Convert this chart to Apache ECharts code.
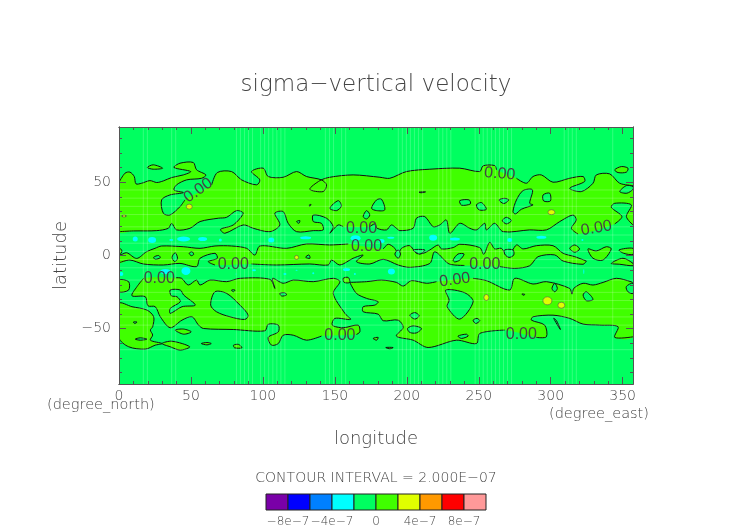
<!DOCTYPE html>
<html><head><meta charset="utf-8">
<style>html,body{margin:0;padding:0;background:#fff}#c{width:752px;height:532px}</style>
<script src="https://cdn.jsdelivr.net/npm/echarts@6/dist/echarts.min.js"></script>
</head><body><div id="c"></div>
<script>
const FONT='DejaVu Sans';
const LABEL_FONT='Liberation Sans';
const titleText='sigma\u2212vertical velocity';
const intervalText='CONTOUR INTERVAL = 2.000E\u221207';
const xTicks=[0,50,100,150,200,250,300,350];
const yTicks=[-50,0,50];
const xMinor=[10,20,30,40,60,70,80,90,110,120,130,140,160,170,180,190,210,220,230,240,260,270,280,290,310,320,330,340];
const yMinor=[-80,-70,-60,-40,-30,-20,-10,10,20,30,40,60,70,80];
const lonMax=357.19, latMax=87.86;
// colour classes (units of 1e-7)
const legendEdges=[-10,-8,-6,-4,-2,0,2,4,6,8,10];
const legendColors=['#7a00a8','#0000ff','#0080ff','#00ffff','#00ff60','#40ff00','#e0ff00','#ff9900','#ff0000','#ff9999'];
const legendTicks=[-8,-4,0,4,8];
const C_NEG=legendColors[4], C_POS=legendColors[5], C_CYAN=legendColors[3], C_YEL=legendColors[6];
// zero contour, [lon,lat]; null = gap for a contour label
const nTop=[[0,50.1],[4.2,56.3],[7.6,57],[10.6,54],[11.8,49],[15.7,49.4],[21.5,51.2],[26.2,49.9],[30.8,51],[36.6,53.3],[44.7,55.1],[49.8,57.4],[38.2,60.2],[42.4,63.1],[51.6,63.6],[53.9,58.6],[60.4,55.1],[57.4,52.8],[47,51.7],[40,48.3],[38.2,44.8],[44.7,43],[35.4,41.4],[29.6,38],[30.8,28.9],[35.4,27.7],[42.4,33.4],[45.8,38],null,[64.4,48.3],[68.3,56.7],[78.2,57.4],[85.2,51.7],[95.6,48.3],[97.9,51.7],[92.1,57.4],[100.2,59.7],[103.7,54],[114.1,53.5],[123.4,57.4],[130.3,54],[140.7,51.7],[144.2,48.3],[141.9,43.7],[132.6,45.3],[139.6,51.2],[146.5,53.5],[162.7,55.1],[181.3,53.5],[188.2,52.8],[199.8,57.4],[216,59],[236.8,59.7],[250.7,57.4],[253,61.3],[261.1,61.5],[262.3,58.6],null,[276.2,52.8],[283.1,49.4],[287.7,54],[293.5,55.1],[301.6,50.1],[313.2,52.8],[322.5,54],[323.6,50.6],[313.2,46],[321.3,43.7],[329.4,49.4],[331.7,55.1],[341,55.8],[347.9,49.4],[357.2,47.8]];
const nBottom=[[0,16.3],[10,16.8],[26.2,17],[34.3,18.6],[36.6,22],[40,17.5],[49.3,18.6],[56.3,23.2],[69,25.5],[74.8,26.1],[81.7,30.7],[86.3,28.9],[79.4,20.9],[70.6,17.9],[73.6,15.2],[86.3,20.9],[93.3,18.6],[104.9,16.3],[111.8,20.9],[108.3,28.9],[114.1,30],[117.6,22],[123.4,16.3],[135,17],[141.9,17.5],[140.7,22],[135,23.2],[135,27.7],[144.2,25.5],[148.9,19.7],[146.5,15.2],[152.3,20.9],[155.8,19.7],null,[174.3,19.7],[177.8,21.6],[179.4,18.6],[185.9,17.5],[189.3,20.9],[192.8,18.6],[195.1,17],[204.4,18.6],[206.7,25.5],[212.5,26.6],[218.3,19.7],[222.9,20.9],[227.5,24.3],[229.9,15.2],[236.8,22],[243.8,18.6],[248.4,17.5],[254.2,22],[255.3,17.5],[261.1,22],[266.9,16.3],[285.4,17.5],[297,17.5],[306.3,23.2],[315.5,27.7],[317.8,24.3],[314.4,18.6],[319,14.7],null,[344.5,21.6],[349.5,26.6],[342.1,33],[344.5,35.7],[356,34.6],[352.6,26.6],[357.2,20.9]];
const mTop=[[0,5.6],[2.1,3.1],[0.7,0.3],[5.3,1.9],[12.3,-2],[19.2,2.6],[25,4.9],[29.6,6.5],[44.7,6],[56.3,4.9],[66.7,6.5],[78.2,6.5],[88.7,4.9],[94.4,0.3],[97.9,6.5],[116.4,4.9],[130.3,7.9],[146.5,7.2],[159.3,7.9],null,[183.6,4.5],[187.1,7.7],[191.7,4.9],[194,0.8],[196.3,4.9],[202.1,6.7],[206.7,1.5],[211.4,1.5],[216,3.8],[221.8,7.2],[224.1,4.5],[232.2,5.4],[236.8,7.7],[250.7,5.4],[253.5,0.8],[257.6,9],[261.1,4.5],[265.7,4.9],[270.4,-0.8],[276.2,7.2],[280.8,4.5],[290,6.7],[301.6,6.7],[308.6,1.5],[316.7,-0.8],[324.8,-3.8]];
const mBottom=[[0,-5],[7.6,-3.1],[16.9,-5.8],[30.8,-6.5],[42.4,-5.4],[53.9,-7.6],[56.3,-1.9],[66.7,1.5],[68.3,-1.9],[62,-4.2],[66.7,-6.5],null,[92.1,-5.8],[109.5,-6.5],[132.6,-5.8],[145.4,-6.5],[147.7,-3.1],[153.5,-6.5],[162.7,-1.9],[169.7,0.3],[165,-4.2],[174.3,-5.8],[183.6,-2.6],[194,-6.5],[202.1,-8.1],[216,-5.4],[219.4,2.6],[228.7,-5.4],[233.3,-6.5],[240,-6.8],null,[264.6,-7.6],[275,-8.8],[285.4,-7],[291.2,-0.8],[302.8,0.4],[308.6,-3.8],[322.5,-6],[324.8,-3.8]];
const s1Ring=[[39.6,-15.2],[43.5,-15.6],[48.1,-20.2],[53.9,-16.8],[56.3,-20.2],[63.2,-16.8],[74.8,-17.9],[84,-15.6],[104.9,-16.3],[108.3,-22.5],[106.7,-15.6],[114.1,-19],[121.1,-16.8],[135,-17.9],[148.9,-15.6],[153.5,-17.9],[148.9,-25.9],[157,-39.6],[160.9,-43.7],[150,-43],[148.2,-47.6],[155.8,-49.4],[166.2,-47.6],[167.4,-52.2],[165,-54],null,[140.7,-55.1],[130.3,-57.9],[121.1,-54.5],[114.1,-54.5],[110.7,-60.2],[106,-61.3],[103.7,-56],[110.7,-52.2],[110.7,-47.6],[103.7,-47],[101.4,-51.5],[79.4,-50.6],[58.6,-49.9],[55.3,-47.6],[50.7,-41.9],[43.8,-44.2],[35.6,-49.4],[28.7,-41.9],[25.2,-35],[20.1,-34.4],[18.3,-28.2],[9,-27.5],[12.5,-21.3],[17.1,-15.6]];
const s2Top=[[160.4,-18.4],[172,-17.9],[182.4,-16.8],[192.8,-18.4],[197.5,-20.9],[203.2,-17.2],[213.7,-19],[220.6,-17.9],null,[246.1,-15.6],[255.3,-17.2],[271.5,-23.6],[275,-15.6],[287.7,-19.5],[297,-17.9],[313.2,-22.5],[314.8,-26.4],[316,-22.5],[322.5,-19],[329.4,-20.2],[336.4,-18.4],[345.6,-15.6],[356,-18],[357.2,-19]];
const s2Bottom=[[160.4,-18.4],[165,-25.9],[172,-29.3],[180.1,-31.6],[177.8,-33.9],[169.7,-35],[169.7,-38.5],[180.1,-40.1],[183.6,-44.6],[194,-44.2],[197.5,-49.2],[192.8,-55.1],[204.4,-57.9],[214.8,-62.9],[234.5,-57.9],[248.4,-60.2],[250.7,-53.3],[268,-51],null,[290,-56],[297,-55.6],[295.8,-47.6],[286.6,-44.2],[287.7,-41.9],[301.6,-40.8],[313.2,-43],[322.5,-46.9],[334,-47.6],[346.8,-48.7],[344.5,-56],[357.2,-55.6]];
const brightBlobs=[
[[19.7,60.2],[23.8,62],[30.3,59.7],[23.8,59]],
[[344.5,58.6],[349.1,60.8],[353.7,59.7],[352.6,57],[346.8,56.7]],
[[325.9,4.5],[331.7,3.1],[338.7,6],[342.1,4.5],[336.3,-3.1],[329.4,-1.9]],
[[347.5,3.8],[357.2,4.9],[357.2,0.8],[350.7,1.5]],
[[342.1,-5.4],[350.2,-1.9],[357.2,-5.4],[357.2,-7],[348,-6]],
[[313.2,4.9],[316.7,7.2],[320.1,4.5],[316.7,2.2]],
[[155.8,-15.6],[159.3,-15],[160.4,-18.4],[156.5,-18.4]],
[[176.6,-56.7],[180.1,-56],[179,-57.9]],
[[185.4,-62.9],[190.5,-62.9],[188.2,-63.8]],
[[0,-16.8],[6.7,-17.9],[6.7,-23.6],[0,-24.8]],
[[0,-32.8],[9,-35],[19.4,-37.3],[24.1,-41.9],[23.4,-48.7],[21.8,-51],[23.4,-54.4],[21.8,-57.9],[29.9,-60.2],[25.2,-61.3],[18.3,-64],[6.7,-62.4],[0,-56.3]],
[[29.9,-60.2],[36.8,-58.6],[49.1,-62.4],[42.6,-64.7],[35.6,-62.4]],
[[39.1,-51],[44.9,-50.3],[50.2,-52.2],[44.9,-53.8]],
[[57.2,-60.2],[61.1,-59.5],[64.1,-60.2],[61.1,-61.1]],
[[79.6,-61.3],[83.1,-60.8],[85.4,-63.1],[80.3,-63.1]]
];
const darkHoles=[
[[357.2,47.1],[352.6,47.8],[348,43.7],[353,42.6],[357.2,45.3]],
[[146.5,32.3],[152.3,37.5],[154.6,33.9],[151.2,30.7]],
[[169.7,26.6],[172,30.7],[174.3,27.7],[172,25]],
[[175.5,32.3],[179,38],[182.4,38.5],[184.7,31.2],[179,30.7]],
[[236.8,37.5],[243.3,38],[244.2,35.3],[238,34.4]],
[[248.4,34.6],[251.9,36.2],[255.3,31.6],[250.2,31.2]],
[[264.1,38],[268,39.1],[270.8,38],[267.4,35.5]],
[[273.8,30],[276.2,38],[280.8,44.4],[287.3,44.9],[285.4,35.7],[287.7,34.6],[279.6,31.6],[275.5,28.4]],
[[294.7,41.4],[299.3,42.6],[299.8,37.3],[295.1,37.3]],
[[266.4,23.9],[269.2,26.1],[272.7,23.9],[269.2,21.6]],
[[123.4,23.2],[125.7,23.9],[125,22]],
[[24.1,-1.2],[27.5,0],[28.7,-1.5],[25.2,-2.6]],
[[36.8,-1.2],[39.1,1.9],[40.7,-2],[38.7,-4.2]],
[[48.8,1.5],[50.7,2.6],[51.9,0.8],[50.2,-0.1]],
[[129.7,-1.2],[132,0.4],[132.7,-1.9]],
[[191.7,1],[194,3.8],[195.6,1],[194,-1.9]],
[[204.4,3.8],[212.5,3.8],[209,1]],
[[268,3.8],[273.8,3.8],[274.3,0.3],[271,-1.3],[268,1]],
[[232.2,-3.1],[235.6,1],[239.8,1],[236.8,-3.1],[233.3,-4.4]],
[[227.1,-23.6],[240.3,-25.5],[246.1,-31.6],[236.8,-43.5],[228,-35],[229.4,-30.5]],
[[202.1,-40.8],[205.6,-39],[208.6,-41.2],[205.6,-43.5]],
[[200.5,-49.9],[204.4,-48.1],[210.2,-49.9],[206.7,-52.9],[202.1,-52.6]],
[[246.1,-44.2],[248.8,-43],[250.7,-44.6],[247.9,-46.5]],
[[235.6,-55.1],[241.4,-53.8],[242.6,-55.1],[238,-56.7]],
[[300.9,-22.5],[302.8,-19],[304.6,-22.5],[302.8,-24.8]],
[[322.5,-27],[324.8,-24.8],[329.4,-30],[324.8,-30.9]],
[[352.5,-21.3],[357.2,-19],[357.2,-25.9],[353.7,-24.8]],
[[302.1,-43],[306.7,-50.6],[304,-44.5]],
[[35.6,-23.6],[42.6,-23.6],[44.9,-27],[53,-33.9],[43.8,-35],[35.6,-39.6],[35.6,-36.2],[42.6,-31.6],[40.3,-28.2],[36.3,-27.5]],
[[63.7,-33.9],[66.7,-24.8],[74.8,-25.9],[84,-33.9],[89.8,-40.8],[87.5,-43.7],[77.1,-41.9],[67.8,-38.5]],
[[78.2,-23.6],[80.6,-23.6],[79.4,-24.8]],
[[111.8,-25.9],[115.3,-25.5],[116.4,-27],[113,-27.7]],
[[10,-45.5],[12.5,-45.5],[11,-46.5]],
[[11.3,-57.2],[14.8,-56.3],[19.4,-57.2],[14.8,-57.9]],
[[132,34.2],[133.4,35],[132.8,33.8]],
[[208.5,43.3],[213,43.5],[210,42.9]],
[[280,-26.3],[282,-26.6],[281,-27.2]]
];
// small closed extremes: lon, lat, width, height
const cyanSpots=[[11.3,11.3,5,5],[23,10.6,8,6],[36.3,10.6,4,2],[44.9,11.3,13,5],[58.1,11.3,9,4],[70.4,10.6,3,3],[105.8,10.6,6,5],[129.7,12.2,11,3],[164.4,11.8,10,6],[182.4,9.9,6,4],[188.9,12.2,7,2],[218.3,12.2,8,6],[233.4,11.3,10,3],[271.5,10.6,5,4],[293.5,12.4,10,3],[322,10.6,2,2],[32.2,-11,10,5],[46.5,-10.6,9,8],[1.6,-12.7,4,4],[93.8,-10,4,2],[115.3,-12.7,3,2],[158.1,-9.5,7,3],[81.3,-12.7,1,1],[123.4,-10,2,1],[135,-12.2,2,2],[163.9,-12.7,2,2],[189.3,-11,7,6],[323,-11,1,5]];
const yellowSpots=[[48.8,33.4,6,5],[3.5,27,4,2],[300.5,29.6,7,5],[123.4,-1.3,4,4],[255.3,-28.7,5,6],[297.7,-31,9,8],[307.4,-34,7,6]];
// contour labels: lon, lat, rotation in degrees
const contourLabels=[[55,44.4,35],[168.5,18.6,0],[172,6,0],[79.4,-6,0],[28,-15.6,0],[153.5,-54.5,0],[264.6,55.8,-5],[331.7,18.6,10],[254.2,-6.5,0],[233.3,-16.8,8],[279.6,-53.8,0]];
const contourLabelText='0.00';
// light seams seen in the fill
const seamLons=[16.9,19.7,36.6,39.4,81.6,84.4,87.2,90,92.8,98.4,101.2,104,106.9,109.7,112.5,115.3,143.4,146.3,149.1,154.7,157.5,194.1,196.9,199.7,202.5,205.3,208.1,211,222.2,225,227.8,230.6,247.5,250.3,253.1,255.9,258.8,261.6,264.4,267.2,270,272.8,309.4,312.2,315,317.8,343.1];
const seamLats=[44.8,39.2,33.6,28,19.6,14,8.4,2.8,-2.8,-8.4,-16.8,-25.2,-30.8,-36.4,-42,-47.6,-64.4];

const SMOOTH=0.3;
const shapes=[];
const band=(top,bottom)=>shapes.push({fill:C_POS,pts:top.filter(Boolean).concat(bottom.filter(Boolean).reverse()),lines:[top,bottom]});
band(nTop,nBottom); band(mTop,mBottom); band(s2Top,s2Bottom);
shapes.push({fill:C_POS,pts:s1Ring.filter(Boolean),lines:[s1Ring]});
brightBlobs.forEach(p=>shapes.push({fill:C_POS,pts:p,closed:true}));
darkHoles.forEach(p=>shapes.push({fill:C_NEG,pts:p,closed:true}));

function split(line){const out=[];let cur=[];line.forEach(p=>{if(p)cur.push(p);else{out.push(cur);cur=[];}});out.push(cur);return out;}
function renderShape(params,api){
  const s=shapes[api.value(0)];
  const map=p=>api.coord(p);
  const children=[{type:'polygon',shape:{points:s.pts.map(map),smooth:SMOOTH},style:s.closed?{fill:s.fill,stroke:'#111',lineWidth:1}:{fill:s.fill}}];
  (s.lines||[]).forEach(l=>split(l).forEach(seg=>children.push({type:'polyline',shape:{points:seg.map(map),smooth:SMOOTH},style:{fill:null,stroke:'#111',lineWidth:1}})));
  const cs=params.coordSys;
  return {type:'group',children,clipPath:{type:'rect',shape:{x:cs.x,y:cs.y,width:cs.width,height:cs.height}}};
}
function renderSeam(params,api){
  const cs=params.coordSys, v=api.value(0), isLon=api.value(1)===0;
  const p=isLon?api.coord([v,0]):api.coord([0,v]);
  const sh=isLon?{x1:p[0],y1:cs.y,x2:p[0],y2:cs.y+cs.height}:{x1:cs.x,y1:p[1],x2:cs.x+cs.width,y2:p[1]};
  return {type:'line',shape:sh,style:{stroke:'rgba(255,255,255,0.2)',lineWidth:1}};
}
const gray='#444';
const WEIGHT=200;
function renderLabel(params,api){
  const p=api.coord([api.value(0),api.value(1)]);
  return {type:'text',x:p[0],y:p[1],rotation:api.value(2)*Math.PI/180,style:{text:contourLabelText,fill:'#444',font:'16px "'+LABEL_FONT+'"',align:'center',verticalAlign:'middle'}};
}
function renderLegend(params,api){
  const a=api.coord([api.value(0),0]), b=api.coord([api.value(1),1]);
  return {type:'rect',shape:{x:a[0],y:b[1],width:b[0]-a[0],height:a[1]-b[1]},style:{fill:legendColors[params.dataIndex],stroke:'#222',lineWidth:1}};
}
const minus=v=>String(v).replace('-','\u2212');
const axisBase={min:0,max:lonMax,type:'value',gridIndex:0,z:10,splitLine:{show:false},
  axisLine:{show:true,onZero:false,lineStyle:{color:'#555',width:1}}};
const yBase={min:-latMax,max:latMax,type:'value',gridIndex:0,z:10,splitLine:{show:false},
  axisLine:{show:true,onZero:false,lineStyle:{color:'#555',width:1}}};
const tick=(vals,len)=>({show:true,inside:true,length:len,customValues:vals,lineStyle:{color:'#555',width:1}});
const floatText=(text,left,top,size)=>({type:'text',left,top,silent:true,style:{text,fill:gray,font:WEIGHT+' '+size+'px "'+FONT+'"'}});

const option={
  animation:false,
  backgroundColor:'#fff',
  grid:[{left:119,top:127,width:514,height:257,show:true,backgroundColor:C_NEG,borderWidth:0},
        {left:266,top:494,width:220,height:16,show:false}],
  xAxis:[
    Object.assign({},axisBase,{position:'bottom',axisTick:tick(xTicks,7),
      axisLabel:{show:true,customValues:xTicks,color:gray,fontFamily:FONT,fontWeight:WEIGHT,fontSize:14,margin:5},
      name:'longitude',nameLocation:'middle',nameGap:46,nameTextStyle:{color:gray,fontFamily:FONT,fontWeight:WEIGHT,fontSize:18}}),
    Object.assign({},axisBase,{position:'top',axisTick:tick(xTicks,7),axisLabel:{show:false}}),
    Object.assign({},axisBase,{position:'bottom',axisTick:tick(xMinor,3),axisLabel:{show:false}}),
    Object.assign({},axisBase,{position:'top',axisTick:tick(xMinor,3),axisLabel:{show:false}}),
    {type:'value',gridIndex:1,min:legendEdges[0],max:legendEdges[legendEdges.length-1],position:'bottom',
      splitLine:{show:false},axisLine:{show:false},axisTick:{show:false},
      axisLabel:{show:true,customValues:legendTicks,hideOverlap:false,showMinLabel:true,showMaxLabel:true,color:gray,fontFamily:FONT,fontWeight:WEIGHT,fontSize:12,margin:6,
        formatter:v=>v===0?'0':minus(v)+'e\u22127'}}
  ],
  yAxis:[
    Object.assign({},yBase,{position:'left',axisTick:tick(yTicks,7),
      axisLabel:{show:true,customValues:yTicks,color:gray,fontFamily:FONT,fontWeight:WEIGHT,fontSize:14,margin:8,formatter:minus},
      name:'latitude',nameLocation:'middle',nameGap:45,nameRotate:90,nameTextStyle:{color:gray,fontFamily:FONT,fontWeight:WEIGHT,fontSize:18}}),
    Object.assign({},yBase,{position:'right',axisTick:tick(yTicks,7),axisLabel:{show:false}}),
    Object.assign({},yBase,{position:'left',axisTick:tick(yMinor,3),axisLabel:{show:false}}),
    Object.assign({},yBase,{position:'right',axisTick:tick(yMinor,3),axisLabel:{show:false}}),
    {type:'value',gridIndex:1,min:0,max:1,show:false}
  ],
  title:[
    {text:titleText,left:371,top:69,textAlign:'center',textStyle:{color:gray,fontFamily:FONT,fontSize:23,fontWeight:WEIGHT}},
    {text:intervalText,left:371,top:466,textAlign:'center',textStyle:{color:gray,fontFamily:FONT,fontSize:14,fontWeight:WEIGHT}}
  ],
  graphic:[floatText('(degree_north)',47,398,14.5),floatText('(degree_east)',549,407,14.5)],
  series:[
    {type:'custom',coordinateSystem:'cartesian2d',xAxisIndex:0,yAxisIndex:0,z:3,renderItem:renderShape,data:shapes.map((s,i)=>[i]),encode:{x:-1,y:-1},silent:true},
    {type:'custom',coordinateSystem:'cartesian2d',xAxisIndex:0,yAxisIndex:0,z:4,renderItem:renderSeam,data:seamLons.map(v=>[v,0]).concat(seamLats.map(v=>[v,1])),encode:{x:-1,y:-1},silent:true},
    {type:'scatter',xAxisIndex:0,yAxisIndex:0,z:5,data:cyanSpots,symbol:'circle',symbolSize:v=>[v[2],v[3]],itemStyle:{color:C_CYAN,opacity:1},silent:true},
    {type:'scatter',xAxisIndex:0,yAxisIndex:0,z:5,data:yellowSpots,symbol:'circle',symbolSize:v=>[v[2],v[3]],itemStyle:{color:C_YEL,opacity:1,borderColor:'#555',borderWidth:0.6},silent:true},
    {type:'custom',coordinateSystem:'cartesian2d',xAxisIndex:0,yAxisIndex:0,z:6,renderItem:renderLabel,data:contourLabels,encode:{x:0,y:1},silent:true},
    {type:'custom',coordinateSystem:'cartesian2d',xAxisIndex:4,yAxisIndex:4,z:3,renderItem:renderLegend,data:legendColors.map((c,i)=>[legendEdges[i],legendEdges[i+1]]),encode:{x:[0,1],y:-1},silent:true}
  ]
};
const chart=echarts.init(document.getElementById('c'));
chart.setOption(option);
</script></body></html>
